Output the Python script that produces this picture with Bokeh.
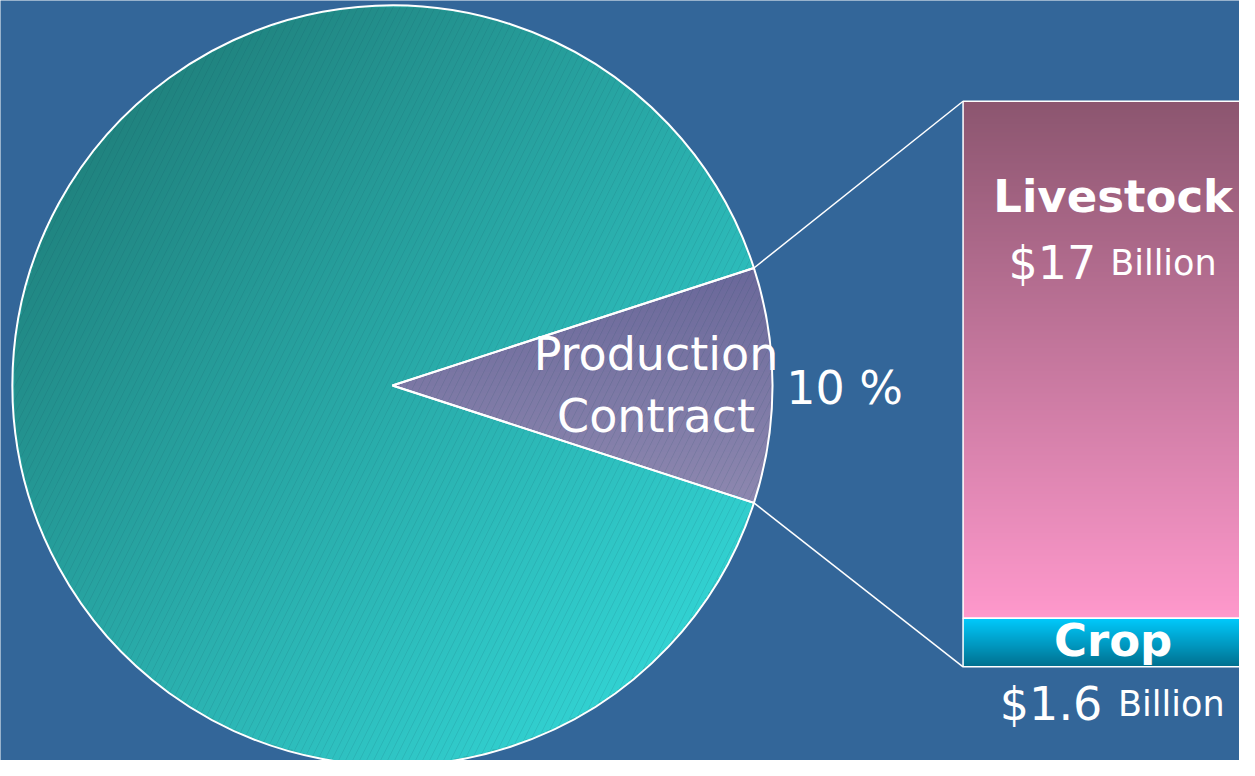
import numpy as np
from bokeh.plotting import figure
from bokeh.models import Range1d, ColumnDataSource
from bokeh.core.properties import value
from bokeh.embed import file_html
from bokeh.resources import INLINE

# ---------------- data ----------------
pie_labels = ["Production Contract", "Other"]
pie_shares = [10, 90]                 # percent
bar_labels = ["Livestock", "Crop"]
bar_values = [17, 1.6]                # $ billion
value_unit = "Billion"

# ---------------- style / layout ----------------
BG = "#336699"
FONT = "DejaVu Sans"
W, H = 1239, 760
XMAX = 1255.0
ups = XMAX / W
ymid = 388.0
yspan = H * ups

p = figure(width=W, height=H, x_range=Range1d(0, XMAX),
           y_range=Range1d(ymid - yspan / 2, ymid + yspan / 2),
           output_backend="svg", toolbar_location=None,
           background_fill_color=BG, border_fill_color=BG,
           outline_line_color=None, min_border=0)
p.axis.visible = False
p.grid.visible = False

# ---------------- pie ----------------
cx, cy, R = 397.0, 383.0, 385.0
half = np.pi * pie_shares[0] / 100.0
starts = [-half, half]
ends = [half, 2 * np.pi - half]
pie_src = ColumnDataSource(dict(label=pie_labels, share=pie_shares,
                                start=starts, end=ends,
                                color=["#7c78a4", "#28a8a6"]))

p.wedge(x=cx, y=cy, radius=R, start_angle="start", end_angle="end",
        fill_color="color", line_color=None, source=pie_src)

# gradient shading of the slices (image placed through data scales)
N = 440
cell = 2 * R / N
g = cx - R + (np.arange(N) + 0.5) * cell
gy = cy - R + (np.arange(N) + 0.5) * cell
X, Y = np.meshgrid(g, gy)
dx, dy = X - cx, Y - cy
inside = dx ** 2 + dy ** 2 <= (R - 1.0) ** 2
ang = np.arctan2(dy, dx)
in_slice = inside & (np.abs(ang) <= half)
in_rest = inside & ~in_slice
t = np.clip(0.5 + (dx - dy) / (2 * np.sqrt(2) * R), 0, 1)[..., None]
c0 = np.array([32, 131, 127]); c1 = np.array([50, 210, 210])
teal = c0 + (c1 - c0) * t
hs = R * np.sin(half)
ts = np.clip((hs - dy) / (2 * hs), 0, 1)[..., None]
p0 = np.array([106, 104, 154]); p1 = np.array([142, 136, 176])
purple = p0 + (p1 - p0) * ts
img = np.zeros((N, N, 4), dtype=np.uint8)
img[in_rest, :3] = teal[in_rest].astype(np.uint8)
img[in_slice, :3] = purple[in_slice].astype(np.uint8)
img[inside, 3] = 255
p.image_rgba(image=[img.view(np.uint32).reshape(N, N)],
             x=cx - R, y=cy - R, dw=2 * R, dh=2 * R)

# hatch + outline
p.wedge(x=cx, y=cy, radius=R, start_angle="start", end_angle="end",
        fill_color=None, hatch_pattern="/", hatch_color="#0b3f52",
        hatch_alpha=0.16, hatch_scale=14, hatch_weight=0.7,
        line_color="white", line_width=2, source=pie_src)

# ---------------- stacked bar ----------------
bar_left, bar_w, bar_bottom = 975.0, 304.0, 98.0
k = 30.8                      # data units per $ billion
order = [1, 0]                # crop at the bottom
bottoms, tops = {}, {}
acc = bar_bottom
for i in order:
    bottoms[i] = acc
    acc += bar_values[i] * k
    tops[i] = acc
bar_src = ColumnDataSource(dict(
    label=bar_labels, val=bar_values,
    left=[bar_left] * 2, right=[bar_left + bar_w] * 2,
    bottom=[bottoms[0], bottoms[1]], top=[tops[0], tops[1]],
    color=["#c0709a", "#00a3cc"]))
p.quad(left="left", right="right", bottom="bottom", top="top",
       fill_color="color", line_color=None, source=bar_src)

grad_stops = {0: ((255, 153, 204), (140, 86, 112)),   # livestock bottom -> top
              1: ((0, 112, 143), (0, 204, 255))}       # crop bottom -> top
M = 400
for i in (0, 1):
    lo, hi = np.array(grad_stops[i][0]), np.array(grad_stops[i][1])
    tt = np.linspace(0, 1, M)[:, None]
    col = lo + (hi - lo) * tt
    bimg = np.zeros((M, 1, 4), dtype=np.uint8)
    bimg[:, 0, :3] = col.astype(np.uint8)
    bimg[:, 0, 3] = 255
    p.image_rgba(image=[bimg.view(np.uint32).reshape(M, 1)],
                 x=bar_left, y=bottoms[i], dw=bar_w, dh=tops[i] - bottoms[i])

p.quad(left="left", right="right", bottom="bottom", top="top",
       fill_color=None, line_color="white", line_width=1.5, source=bar_src)

# connector lines from slice edge to bar corners
ex = cx + R * np.cos(half)
p.segment(x0=[ex, ex], y0=[cy + R * np.sin(half), cy - R * np.sin(half)],
          x1=[bar_left, bar_left], y1=[tops[0], bar_bottom],
          line_color="white", line_width=1.5)

# ---------------- texts ----------------
bc = bar_left + bar_w / 2
white = "white"
DY = 16   # baseline correction

def txt(x, y, s, size, bold=False, align="center"):
    p.text(x=[x], y=[y + DY], text=[s], text_font=value(FONT),
           text_font_size=value(size), text_color=white,
           text_align=align, text_baseline="alphabetic",
           text_font_style="bold" if bold else "normal")

# slice label
txt(664, 399, "Production", "46px")
txt(664, 336, "Contract", "46px")
txt(855, 364, f"{pie_shares[0]} %", "46px")

# livestock
txt(bc, 558, bar_labels[0], "45px", bold=True)
txt(bc - 17, 491, f"${bar_values[0]:g}", "46px", align="right")
txt(bc - 3, 491, value_unit, "35px", align="left")

# crop
txt(bc, 109, bar_labels[1], "45px", bold=True)
txt(bc - 11, 44, f"${bar_values[1]:g}", "46px", align="right")
txt(bc + 5, 44, value_unit, "35px", align="left")

open("out.html", "w").write(file_html(p, INLINE))
